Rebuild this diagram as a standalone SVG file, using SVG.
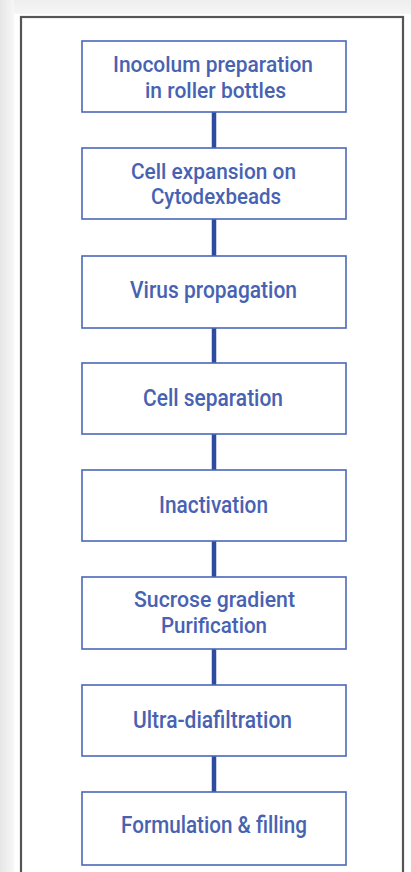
<svg xmlns="http://www.w3.org/2000/svg" width="411" height="872" viewBox="0 0 411 872">
  <defs>
    <linearGradient id="sideShade" x1="0" y1="0" x2="1" y2="0">
      <stop offset="0" stop-color="#e6e6e6"/>
      <stop offset="1" stop-color="#f7f7f7"/>
    </linearGradient>
    <linearGradient id="topShade" x1="0" y1="0" x2="0" y2="1">
      <stop offset="0" stop-color="#eeeeee"/>
      <stop offset="1" stop-color="#f6f6f6"/>
    </linearGradient>
  </defs>
  <style>
    .box { fill: #ffffff; stroke: #4a68b8; stroke-width: 1.6; }
    .lbl { fill: #4862b2; font-family: Roboto, "Liberation Sans", sans-serif; font-weight: 500; font-size: 22px; text-anchor: middle; }
    .big { font-size: 23.5px; }
    .link { stroke: #2d4b9f; stroke-width: 4.5; }
  </style>

  <!-- page background -->
  <rect x="0" y="0" width="411" height="872" fill="#ffffff"/>
  <rect x="0" y="0" width="411" height="14" fill="url(#topShade)"/>
  <rect x="0" y="0" width="14" height="872" fill="url(#sideShade)"/>

  <!-- outer frame -->
  <rect x="21" y="17" width="382" height="870" fill="#ffffff" stroke="#555555" stroke-width="2.2"/>

  <!-- connectors -->
  <g id="connectors">
    <line class="link" x1="214" y1="112" x2="214" y2="148"/>
    <line class="link" x1="214" y1="219" x2="214" y2="256"/>
    <line class="link" x1="214" y1="328" x2="214" y2="363"/>
    <line class="link" x1="214" y1="434" x2="214" y2="470"/>
    <line class="link" x1="214" y1="541" x2="214" y2="577"/>
    <line class="link" x1="214" y1="649" x2="214" y2="685"/>
    <line class="link" x1="214" y1="756" x2="214" y2="792"/>
  </g>

  <g id="inoculum">
    <rect class="box" x="82" y="41" width="264" height="71"/>
    <text class="lbl" x="213" y="72" textLength="200" lengthAdjust="spacingAndGlyphs">Inocolum preparation</text>
    <text class="lbl" x="215.5" y="98" textLength="141" lengthAdjust="spacingAndGlyphs">in roller bottles</text>
  </g>

  <g id="expansion">
    <rect class="box" x="82" y="148" width="264" height="71"/>
    <text class="lbl" x="213.5" y="178.5" textLength="165" lengthAdjust="spacingAndGlyphs">Cell expansion on</text>
    <text class="lbl" x="216" y="203.5" textLength="130" lengthAdjust="spacingAndGlyphs">Cytodexbeads</text>
  </g>

  <g id="propagation">
    <rect class="box" x="82" y="256" width="264" height="72"/>
    <text class="lbl big" x="213.5" y="298" textLength="167" lengthAdjust="spacingAndGlyphs">Virus propagation</text>
  </g>

  <g id="separation">
    <rect class="box" x="82" y="363" width="264" height="71"/>
    <text class="lbl big" x="213" y="406" textLength="140" lengthAdjust="spacingAndGlyphs">Cell separation</text>
  </g>

  <g id="inactivation">
    <rect class="box" x="82" y="470" width="264" height="71"/>
    <text class="lbl big" x="213.5" y="513" textLength="109" lengthAdjust="spacingAndGlyphs">Inactivation</text>
  </g>

  <g id="purification">
    <rect class="box" x="82" y="577" width="264" height="72"/>
    <text class="lbl" x="214.5" y="607" textLength="161" lengthAdjust="spacingAndGlyphs">Sucrose gradient</text>
    <text class="lbl" x="214" y="633" textLength="106" lengthAdjust="spacingAndGlyphs">Purification</text>
  </g>

  <g id="diafiltration">
    <rect class="box" x="82" y="685" width="264" height="71"/>
    <text class="lbl big" x="212.5" y="728" textLength="159" lengthAdjust="spacingAndGlyphs">Ultra-diafiltration</text>
  </g>

  <g id="filling">
    <rect class="box" x="82" y="792" width="264" height="73"/>
    <text class="lbl big" x="214" y="833" textLength="186" lengthAdjust="spacingAndGlyphs">Formulation &amp; filling</text>
  </g>
</svg>
